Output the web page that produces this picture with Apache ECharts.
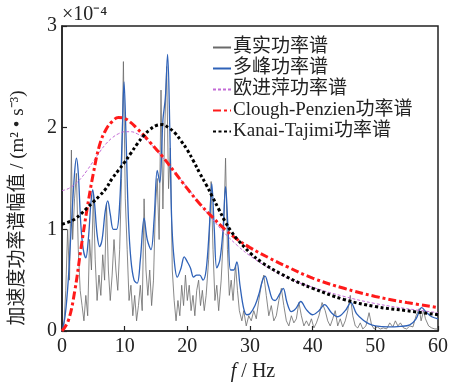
<!DOCTYPE html>
<html><head><meta charset="utf-8">
<script src="https://cdn.jsdelivr.net/npm/echarts@6/dist/echarts.min.js"></script>
<style>html,body{margin:0;padding:0;background:#fff}#c{width:451px;height:386px}</style>
</head><body><div id="c"></div>
<script>
// Frequency in Hz, amplitude in 1e-4 m^2 s^-3
const xTicks = [0, 10, 20, 30, 40, 50, 60];
const yTicks = [0, 1, 2, 3];
const seriesNames = ['真实功率谱', '多峰功率谱', '欧进萍功率谱', 'Clough-Penzien功率谱', 'Kanai-Tajimi功率谱'];

const realSpectrum = [[0,0],[0.3,0.05],[0.6,0.4],[0.9,1.0],[1.2,0.5],[1.5,1.78],[1.7,0.9],[2.0,1.3],[2.3,1.55],[2.6,0.8],[2.9,0.4],[3.2,0.25],[3.5,0.1],[3.8,0.35],[4.1,0.15],[4.4,0.9],[4.7,0.6],[5.0,1.35],[5.3,0.7],[5.6,0.3],[5.9,0.55],[6.2,0.35],[6.5,0.75],[6.8,0.5],[7.1,1.25],[7.4,0.6],[7.7,0.3],[8.0,0.55],[8.3,0.9],[8.6,0.6],[8.9,0.4],[9.2,0.8],[9.5,1.5],[9.8,2.65],[10.1,1.3],[10.4,0.8],[10.7,0.3],[11.0,0.45],[11.3,0.15],[11.6,0.35],[11.9,0.1],[12.2,0.25],[12.5,0.45],[12.8,0.2],[13.1,1.3],[13.4,0.6],[13.7,0.35],[14.0,0.6],[14.3,0.25],[14.6,0.5],[14.9,1.2],[15.2,1.5],[15.5,0.9],[15.8,2.37],[16.1,1.2],[16.4,2.0],[16.7,2.6],[17.0,1.4],[17.3,1.8],[17.6,0.6],[17.9,0.3],[18.2,0.1],[18.5,0.3],[18.8,0.15],[19.1,0.45],[19.4,0.25],[19.7,0.55],[20.0,0.3],[20.3,0.45],[20.6,0.2],[20.9,0.35],[21.2,0.15],[21.5,0.4],[21.8,0.5],[22.1,0.25],[22.4,0.4],[22.7,0.2],[23.0,0.35],[23.4,0.7],[23.8,1.47],[24.1,0.8],[24.4,0.3],[24.7,0.45],[25.0,0.2],[25.4,0.5],[25.8,1.0],[26.1,1.7],[26.4,0.8],[26.7,0.35],[27.0,0.5],[27.3,0.3],[27.7,0.65],[28.0,0.4],[28.3,0.2],[28.7,0.1],[29.0,0.2],[29.4,0.05],[29.8,0.15],[30.2,0.1],[30.6,0.2],[31.0,0.12],[31.4,0.3],[31.8,0.45],[32.2,0.55],[32.6,0.35],[33.0,0.15],[33.4,0.25],[33.8,0.1],[34.2,0.15],[34.6,0.3],[35.0,0.42],[35.4,0.25],[35.8,0.1],[36.2,0.05],[36.6,0.15],[37.0,0.08],[37.4,0.12],[37.8,0.28],[38.2,0.15],[38.6,0.05],[39.0,0.1],[39.4,0.05],[39.8,0.12],[40.2,0.03],[40.6,0.08],[41.0,0.15],[41.5,0.28],[42.0,0.2],[42.4,0.1],[42.8,0.05],[43.2,0.12],[43.6,0.2],[44.0,0.05],[44.4,0.12],[44.8,0.04],[45.2,0.1],[45.6,0.2],[46.0,0.35],[46.4,0.15],[46.8,0.05],[47.2,0.03],[47.6,0.08],[48.0,0.02],[48.5,0.05],[49.0,0.18],[49.4,0.06],[49.8,0.02],[50.3,0.04],[50.8,0.02],[51.3,0.03],[51.8,0.02],[52.3,0.08],[52.8,0.04],[53.2,0.1],[53.6,0.05],[54.0,0.08],[54.5,0.03],[55.0,0.02],[55.5,0.05],[56.0,0.04],[56.5,0.15],[57.0,0.22],[57.3,0.1],[57.7,0.2],[58.0,0.12],[58.5,0.05],[59.0,0.03],[59.5,0.02],[60,0.02]];

const multiPeak = [[0,0],[0.5,0.15],[1.0,0.5],[1.5,1.05],[2.0,1.55],[2.3,1.7],[2.6,1.55],[3.0,1.05],[3.4,0.8],[3.8,0.72],[4.2,0.9],[4.6,1.25],[4.9,1.39],[5.2,1.25],[5.6,0.95],[6.0,0.83],[6.4,0.9],[6.9,1.18],[7.3,1.28],[7.7,1.15],[8.2,1.0],[8.7,1.0],[9.2,1.25],[9.6,1.9],[9.9,2.45],[10.2,1.95],[10.6,1.1],[11.0,0.7],[11.5,0.5],[12.0,0.47],[12.5,0.7],[13.1,1.11],[13.6,0.9],[14.2,0.8],[14.7,1.1],[15.2,1.58],[15.6,1.46],[16.1,2.07],[16.5,2.3],[16.85,2.72],[17.2,2.0],[17.5,1.1],[17.9,0.7],[18.4,0.53],[19.0,0.62],[19.5,0.73],[20.0,0.68],[20.5,0.62],[21.0,0.53],[21.5,0.55],[22.0,0.55],[22.5,0.5],[23.0,0.6],[23.5,1.0],[23.9,1.45],[24.3,1.0],[24.7,0.62],[25.2,0.7],[25.7,1.0],[26.1,1.42],[26.5,1.0],[26.9,0.6],[27.4,0.6],[27.9,0.68],[28.4,0.45],[29.0,0.22],[29.5,0.16],[30.0,0.17],[30.8,0.25],[31.5,0.38],[32.0,0.5],[32.4,0.54],[32.9,0.45],[33.5,0.32],[34.0,0.3],[34.7,0.36],[35.3,0.42],[35.9,0.28],[36.6,0.19],[37.3,0.22],[38.1,0.29],[39.0,0.21],[40.0,0.16],[41.0,0.2],[41.9,0.26],[43.0,0.18],[44.0,0.14],[45.2,0.2],[46.1,0.28],[47.0,0.17],[48.2,0.1],[49.0,0.07],[50,0.05],[52,0.04],[54,0.045],[55.5,0.06],[56.5,0.12],[57.4,0.23],[58.2,0.18],[59,0.14],[60,0.12]];

const ouJinping = [[0,1.38],[1,1.40],[2,1.44],[3,1.5],[4,1.58],[5,1.67],[6,1.76],[7,1.84],[8,1.90],[9,1.94],[10,1.96],[11,1.96],[12,1.94],[13,1.9],[14,1.85],[15,1.78],[16,1.71],[18,1.56],[20,1.41],[22,1.25],[24,1.1],[26,0.96],[28,0.84],[30,0.74],[33,0.62],[36,0.52],[40,0.43],[45,0.34],[50,0.27],[55,0.22],[60,0.18]];

const cloughPenzien = [[0,0],[1,0.1],[2,0.38],[3,0.8],[4,1.2],[5,1.55],[6,1.83],[7,1.98],[8,2.06],[9,2.1],[10,2.09],[11,2.05],[12,1.99],[13,1.93],[14,1.86],[15,1.79],[16,1.72],[18,1.56],[20,1.40],[22,1.25],[24,1.12],[26,1.0],[28,0.9],[30,0.82],[33,0.72],[36,0.63],[40,0.52],[45,0.42],[50,0.34],[55,0.28],[60,0.23]];

const kanaiTajimi = [[0,1.05],[1,1.07],[2,1.1],[3,1.15],[4,1.21],[5,1.27],[6,1.33],[7,1.40],[8,1.50],[9,1.58],[10,1.66],[11,1.75],[12,1.84],[13,1.92],[14,1.98],[15,2.02],[16,2.03],[17,2.0],[18,1.95],[19,1.87],[20,1.78],[21,1.67],[22,1.55],[23,1.44],[24,1.32],[25,1.2],[26,1.08],[27,0.98],[28,0.9],[30,0.77],[32,0.67],[35,0.56],[38,0.47],[40,0.42],[45,0.31],[50,0.24],[55,0.20],[60,0.16]];

const FONT = '"Liberation Serif", "Noto Sans CJK SC", serif';
const chart = echarts.init(document.getElementById('c'), null, {renderer: 'canvas'});
chart.setOption({
  animation: false,
  backgroundColor: '#fff',
  grid: {left: 62, right: 9, top: 26, bottom: 55, show: true, borderColor: '#222', borderWidth: 1.5, backgroundColor: 'transparent'},
  xAxis: {
    type: 'value', min: xTicks[0], max: xTicks[xTicks.length - 1], interval: 10,
    axisLine: {lineStyle: {color: '#222', width: 1.5}},
    axisTick: {inside: true, length: 5, lineStyle: {color: '#222', width: 1.2}},
    axisLabel: {color: '#222', fontSize: 20, fontFamily: FONT, margin: 6},
    splitLine: {show: false}
  },
  yAxis: {
    type: 'value', min: yTicks[0], max: yTicks[yTicks.length - 1], interval: 1,
    axisLine: {lineStyle: {color: '#222', width: 1.5}},
    axisTick: {inside: true, length: 5, lineStyle: {color: '#222', width: 1.2}},
    axisLabel: {color: '#222', fontSize: 20, fontFamily: FONT, margin: 5},
    splitLine: {show: false}
  },
  legend: {
    orient: 'vertical', left: 207, top: 33, itemWidth: 18, itemHeight: 10, itemGap: 2,
    itemStyle: {color: 'rgba(0,0,0,0)', borderColor: 'rgba(0,0,0,0)', borderWidth: 0},
    textStyle: {fontSize: 19, fontFamily: FONT, color: '#222', lineHeight: 19, padding: [0,0,0,-3]},
    data: seriesNames
  },
  graphic: [
    {type: 'text', left: 62, top: 5, style: {text: '×10⁻⁴', fontSize: 20, fontFamily: FONT, fill: '#222'}},
    {type: 'text', x: 18, y: 208, rotation: Math.PI / 2, style: {text: '加速度功率谱幅值 / (m² • s⁻³)', fontSize: 19, fontFamily: FONT, fill: '#222', align: 'center', verticalAlign: 'middle'}},
    {type: 'text', x: 253, y: 372, style: {text: '{i|f}{n| / Hz}', align: 'center', verticalAlign: 'middle', rich: {i: {fontSize: 20, fontStyle: 'italic', fontFamily: FONT, fill: '#222'}, n: {fontSize: 20, fontFamily: FONT, fill: '#222'}}}}
  ],
  series: [
    {name: seriesNames[0], type: 'line', data: realSpectrum, symbol: 'none', lineStyle: {color: '#6a6a6a', width: 0.8}, itemStyle: {color: '#6a6a6a'}, z: 2},
    {name: seriesNames[1], type: 'line', data: multiPeak, symbol: 'none', smooth: 0.35, lineStyle: {color: '#2f62b8', width: 1.3}, itemStyle: {color: '#2f62b8'}, z: 3},
    {name: seriesNames[2], type: 'line', data: ouJinping, symbol: 'none', smooth: 0.4, lineStyle: {color: '#c36bd6', width: 1, type: [3, 2]}, itemStyle: {color: '#c36bd6'}, z: 4},
    {name: seriesNames[3], type: 'line', data: cloughPenzien, symbol: 'none', smooth: 0.4, lineStyle: {color: '#ff1a1a', width: 3, type: [8, 3, 3, 3]}, itemStyle: {color: '#ff1a1a'}, z: 5},
    {name: seriesNames[4], type: 'line', data: kanaiTajimi, symbol: 'none', smooth: 0.4, lineStyle: {color: '#000', width: 3, type: [3, 2.5]}, itemStyle: {color: '#000'}, z: 6}
  ]
});
</script></body></html>
